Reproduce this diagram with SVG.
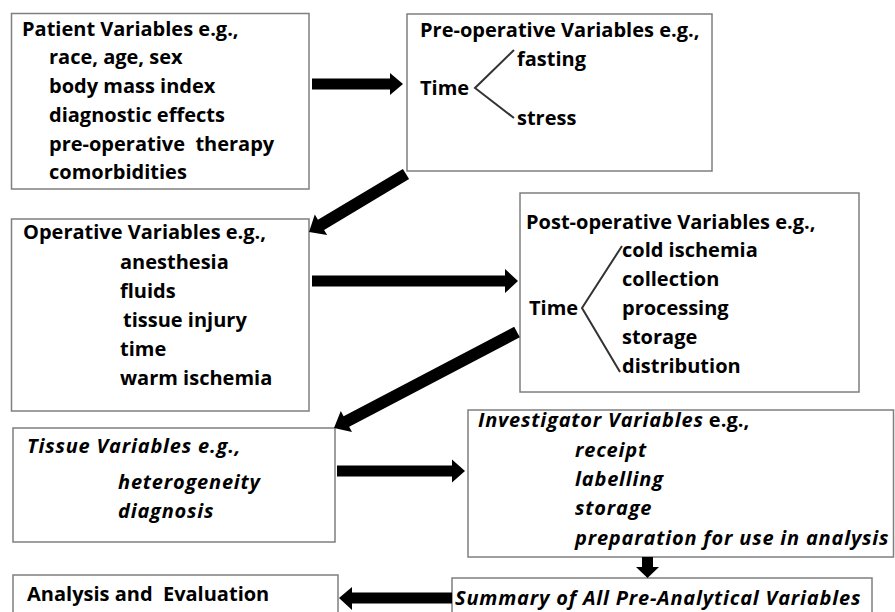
<svg xmlns="http://www.w3.org/2000/svg" width="895" height="612" viewBox="0 0 895 612">
<style>
.box{fill:#fff;stroke:#7f7f7f;stroke-width:1.5}
text{font-family:"Open Sans","Noto Sans","Liberation Sans",sans-serif;font-weight:700;font-size:20px;fill:#000}
.i{font-style:italic;letter-spacing:0.8px}
.arr{fill:#000;stroke:none}
.br{fill:none;stroke:#333;stroke-width:2}
</style>
<rect width="895" height="612" fill="#fff"/>
<g id="patient">
<rect class="box" x="11.5" y="13.5" width="297.5" height="175.5"/>
<text x="22" y="36">Patient Variables e.g.,</text>
<text x="49" y="64">race, age, sex</text>
<text x="49" y="93">body mass index</text>
<text x="49" y="122">diagnostic effects</text>
<text x="49" y="151" xml:space="preserve">pre-operative  therapy</text>
<text x="49" y="179">comorbidities</text>
</g>
<g id="preop">
<rect class="box" x="407" y="14" width="305" height="157"/>
<text x="420" y="37">Pre-operative Variables e.g.,</text>
<text x="420" y="95">Time</text>
<polyline class="br" points="514,50 475,88 514,118"/>
<text x="517" y="66">fasting</text>
<text x="517" y="125">stress</text>
</g>
<g id="operative">
<rect class="box" x="11.5" y="219" width="297.5" height="192"/>
<text x="23" y="239">Operative Variables e.g.,</text>
<text x="120" y="269">anesthesia</text>
<text x="120" y="298">fluids</text>
<text x="123" y="327">tissue injury</text>
<text x="120" y="356">time</text>
<text x="120" y="385">warm ischemia</text>
</g>
<g id="postop">
<rect class="box" x="520" y="193" width="339" height="199"/>
<text x="526" y="229">Post-operative Variables e.g.,</text>
<text x="529" y="315">Time</text>
<polyline class="br" points="622,246 582,308 620,372"/>
<text x="622" y="257">cold ischemia</text>
<text x="622" y="286">collection</text>
<text x="622" y="315">processing</text>
<text x="622" y="344">storage</text>
<text x="622" y="373">distribution</text>
</g>
<g id="tissue">
<rect class="box" x="13" y="428" width="322" height="114"/>
<text class="i" x="27" y="453">Tissue Variables e.g.,</text>
<text class="i" x="118" y="489">heterogeneity</text>
<text class="i" x="118" y="518">diagnosis</text>
</g>
<g id="investigator">
<rect class="box" x="468" y="410" width="425.5" height="147"/>
<text x="478" y="427"><tspan class="i">Investigator Variables</tspan> e.g.,</text>
<text class="i" x="575" y="457">receipt</text>
<text class="i" x="575" y="486">labelling</text>
<text class="i" x="575" y="515">storage</text>
<text class="i" x="575" y="545">preparation for use in analysis</text>
</g>
<g id="summary">
<rect class="box" x="452" y="578" width="420" height="45"/>
<text class="i" x="455" y="605">Summary of All Pre-Analytical Variables</text>
</g>
<g id="analysis">
<rect class="box" x="13" y="575" width="325" height="45"/>
<text x="27" y="601" xml:space="preserve">Analysis and  Evaluation</text>
</g>
<g id="connectors">
<polygon class="arr" points="312,78.5 390,78.5 390,73 403,84 390,95 390,89.5 312,89.5"/>
<polygon class="arr" points="402.9,168.9 317.9,219.7 314.8,214.5 309,232 327.2,235.1 324.1,229.9 409.1,179.1"/>
<polygon class="arr" points="312,275.5 505,275.5 505,269 518,281 505,293 505,286.5 312,286.5"/>
<polygon class="arr" points="514.2,326.7 343.6,416.2 340.8,410.9 334,428 352,432.1 349.2,426.8 519.8,337.3"/>
<polygon class="arr" points="337,465.5 452,465.5 452,459.5 465,471 452,482.5 452,476.5 337,476.5"/>
<polygon class="arr" points="642,557 653,557 653,567 659,567 647.5,578 636,567 642,567"/>
<polygon class="arr" points="452,592.5 352,592.5 352,587 339,598 352,610 352,603.5 452,603.5"/>
</g>
</svg>
